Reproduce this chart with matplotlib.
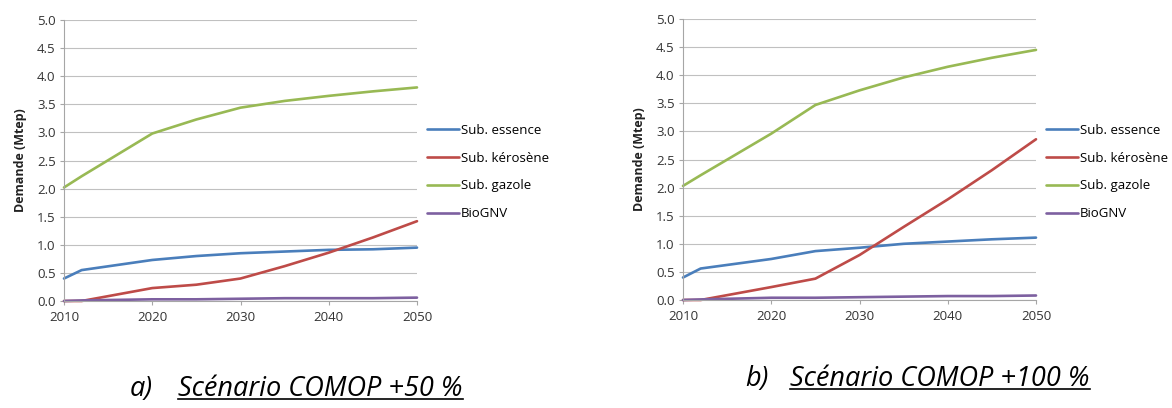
import matplotlib.pyplot as plt
from matplotlib.lines import Line2D

plt.rcParams['font.family'] = ['Open Sans', 'DejaVu Sans']

years = [2010, 2012, 2020, 2025, 2030, 2035, 2040, 2045, 2050]
labels = ['Sub. essence', 'Sub. kérosène', 'Sub. gazole', 'BioGNV']
colors = ['#4A7EBB', '#BE4B48', '#98B954', '#7D60A0']

# scénario COMOP +50 %
a_essence = [0.40, 0.55, 0.73, 0.80, 0.85, 0.88, 0.91, 0.92, 0.95]
a_kerosene = [0.00, 0.00, 0.23, 0.29, 0.40, 0.62, 0.86, 1.13, 1.42]
a_gazole = [2.02, 2.22, 2.98, 3.23, 3.44, 3.56, 3.65, 3.73, 3.80]
a_biognv = [0.00, 0.01, 0.03, 0.03, 0.04, 0.05, 0.05, 0.05, 0.06]

# scénario COMOP +100 %
b_essence = [0.40, 0.56, 0.73, 0.87, 0.93, 1.00, 1.04, 1.08, 1.11]
b_kerosene = [0.00, 0.00, 0.23, 0.38, 0.80, 1.30, 1.79, 2.31, 2.86]
b_gazole = [2.03, 2.22, 2.96, 3.47, 3.73, 3.96, 4.15, 4.31, 4.45]
b_biognv = [0.00, 0.01, 0.04, 0.04, 0.05, 0.06, 0.07, 0.07, 0.08]

captions = [('a)', 'Scénario COMOP +50 %'), ('b)', 'Scénario COMOP +100 %')]

W, H = 1172, 408
fig = plt.figure(figsize=(W / 100, H / 100), dpi=100)

panels = [
    ([a_essence, a_kerosene, a_gazole, a_biognv], [64, 20, 417, 301], 427),
    ([b_essence, b_kerosene, b_gazole, b_biognv], [683, 19, 1036, 300], 1046),
]

for series, (x0, y0, x1, y1), leg_x in panels:
    ax = fig.add_axes([x0 / W, 1 - y1 / H, (x1 - x0) / W, (y1 - y0) / H])
    for vals, lab, col in zip(series, labels, colors):
        ax.plot(years, vals, color=col, linewidth=1.9, label=lab,
                solid_capstyle='round', clip_on=False)
    ax.set_xlim(2010, 2050)
    ax.set_ylim(0, 5)
    ax.set_xticks([2010, 2020, 2030, 2040, 2050])
    ax.set_yticks([i * 0.5 for i in range(11)])
    ax.set_yticklabels([f'{i * 0.5:.1f}' for i in range(11)])
    ax.grid(axis='y', color='#C0C0C0', linewidth=0.8)
    ax.set_axisbelow(True)
    for s in ['top', 'right']:
        ax.spines[s].set_visible(False)
    for s in ['left', 'bottom']:
        ax.spines[s].set_color('#A6A6A6')
        ax.spines[s].set_linewidth(0.8)
    ax.tick_params(axis='both', labelsize=9.5, colors='#A6A6A6',
                   labelcolor='#333333', length=3, width=0.8)
    ax.tick_params(axis='x', pad=4)
    ax.tick_params(axis='y', pad=3)
    ax.set_ylabel('Demande (Mtep)', fontsize=9, fontweight='bold',
                  color='#222222', labelpad=7)
    fig.legend(*ax.get_legend_handles_labels(), loc='center left',
               bbox_to_anchor=(leg_x / W, 1 - 172 / H), frameon=False,
               fontsize=9.5, handlelength=2.4, handletextpad=0.15,
               labelspacing=1.12, borderaxespad=0, borderpad=0)

# légendes sous les graphiques, partie titre soulignée
cap_pos = [(130, 178, 389), (745, 790, 379)]
renderer = fig.canvas.get_renderer()
for (lettre, titre), (xl, xt, yc) in zip(captions, cap_pos):
    fig.text(xl / W, 1 - yc / H, lettre, fontsize=19.5, style='italic',
             va='center', ha='left')
    t = fig.text(xt / W, 1 - yc / H, titre, fontsize=19.5, style='italic',
                 va='center', ha='left')
    bb = t.get_window_extent(renderer)
    fig.add_artist(Line2D([bb.x0 / W, bb.x1 / W],
                          [(bb.y0 + 4) / H, (bb.y0 + 4) / H],
                          color='black', linewidth=1.2))

fig.savefig('out.png', dpi=100)
